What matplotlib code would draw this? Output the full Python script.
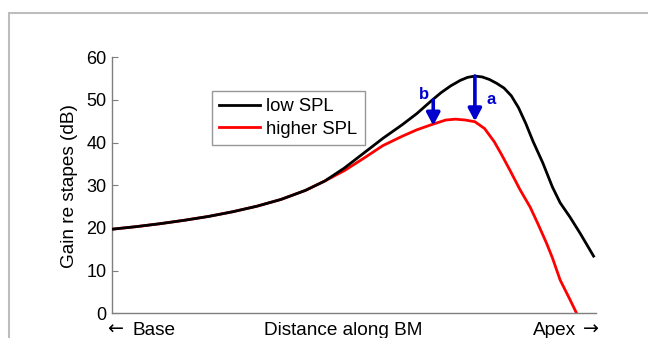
import matplotlib
matplotlib.use("Agg")
import matplotlib.pyplot as plt
from matplotlib.patches import Rectangle

plt.rcParams['font.family'] = ['Liberation Sans', 'DejaVu Sans']

# ---- data (distance along BM in arbitrary units 0..100, gain in dB) ----
x_low = [0, 5, 10, 15, 20, 25, 30, 35, 40, 44, 48, 52, 56, 60, 63, 66, 68, 70,
         72, 73.5, 75, 76.5, 78, 79.5, 81, 82.5, 84, 85.5, 87, 89, 91, 92.6,
         94.6, 96.7, 99.5]
gain_low = [19.7, 20.3, 21.0, 21.8, 22.7, 23.8, 25.1, 26.7, 28.8, 31.0, 34.0,
            37.5, 41.0, 44.2, 46.8, 49.8, 51.7, 53.3, 54.6, 55.3, 55.6, 55.4,
            54.8, 53.9, 52.8, 51.0, 48.2, 44.5, 40.3, 35.3, 29.6, 25.9, 22.6,
            18.8, 13.4]

x_high = [0, 5, 10, 15, 20, 25, 30, 35, 40, 44, 48, 52, 56, 60, 63, 66, 69, 71,
          73, 75, 77, 79, 80.5, 82.2, 84.3, 86.4, 88, 89.8, 91, 92.6, 94.5, 96]
gain_high = [19.7, 20.3, 21.0, 21.8, 22.7, 23.8, 25.1, 26.7, 28.8, 31.0, 33.4,
             36.3, 39.3, 41.5, 43.0, 44.2, 45.3, 45.5, 45.3, 44.9, 43.3, 40.2,
             37.2, 33.6, 29.0, 24.9, 21.0, 16.4, 13.0, 7.8, 3.5, 0.0]

series_names = ['low SPL', 'higher SPL']
y_ticks = [0, 10, 20, 30, 40, 50, 60]

arrow_x = [66.4, 75.0]
arrow_top = [50.0, 55.6]
arrow_bottom = [44.0, 45.0]
arrow_labels = ['b', 'a']
arrow_label_x = [64.5, 78.3]
arrow_label_y = [51.2, 50.0]

x_left_label = 'Base'
x_mid_label = 'Distance along BM'
x_right_label = 'Apex'
y_label = 'Gain re stapes (dB)'

# ---- figure ----
W, H = 648, 338
fig = plt.figure(figsize=(W / 100, H / 100), dpi=100)
ax = fig.add_axes([111.6 / W, 1 - 313.3 / H, (596 - 111.6) / W, (313.3 - 57.3) / H])

# gray frame around the figure
fig.patches.append(Rectangle((9 / W, -0.1), 1.2, 1 - 13 / H + 0.1,
                             transform=fig.transFigure, fill=False,
                             edgecolor='#bdbdbd', linewidth=1.5))

blue = '#0000CC'
ax.plot(x_high, gain_high, color='#FF0000', lw=2.0, label=series_names[1], zorder=2)
ax.plot(x_low, gain_low, color='black', lw=2.0, label=series_names[0], zorder=3)

for xa, yt, yb in zip(arrow_x, arrow_top, arrow_bottom):
    ax.annotate('', xy=(xa, yb), xytext=(xa, yt),
                arrowprops=dict(arrowstyle='-|>,head_length=0.75,head_width=0.4',
                                lw=2.6, color=blue, shrinkA=0, shrinkB=0,
                                mutation_scale=10), zorder=4)
for lab, lx, ly in zip(arrow_labels, arrow_label_x, arrow_label_y):
    ax.text(lx, ly, lab, color=blue, fontsize=12, fontweight='bold',
            ha='center', va='center', zorder=5)

ax.set_xlim(0, 100)
ax.set_ylim(0, 60)
ax.set_yticks(y_ticks)
ax.set_xticks([])
ax.tick_params(axis='y', direction='in', length=4, width=0.8, color='#7f7f7f',
               labelsize=13, pad=3.5)
for s in ['top', 'right']:
    ax.spines[s].set_visible(False)
for s in ['left', 'bottom']:
    ax.spines[s].set_color('#7f7f7f')
    ax.spines[s].set_linewidth(1.0)

h, l = ax.get_legend_handles_labels()
order = [1, 0]
leg = ax.legend([h[i] for i in order], [l[i] for i in order],
                loc='upper left', bbox_to_anchor=(212 / W, 1 - 91 / H),
                bbox_transform=fig.transFigure, borderaxespad=0,
                fontsize=13.3, frameon=True, fancybox=False, edgecolor='#7f7f7f',
                handlelength=2.2, handletextpad=0.35, labelspacing=0.3,
                borderpad=0.4)
leg.get_frame().set_linewidth(1.0)

fig.text(70 / W, 1 - 185.7 / H, y_label, rotation=90, ha='center', va='center',
         fontsize=13.7)
yb = 3 / H
fig.text(107 / W, yb, '\u2190', ha='left', va='baseline', fontsize=13.7,
         family='DejaVu Sans')
fig.text(133 / W, yb, x_left_label, ha='left', va='baseline', fontsize=13.7)
fig.text(343 / W, yb, x_mid_label, ha='center', va='baseline', fontsize=13.7)
fig.text(576 / W, yb, x_right_label, ha='right', va='baseline', fontsize=13.7)
fig.text(599 / W, yb, '\u2192', ha='right', va='baseline', fontsize=13.7,
         family='DejaVu Sans')

fig.savefig('out.png', dpi=100)
